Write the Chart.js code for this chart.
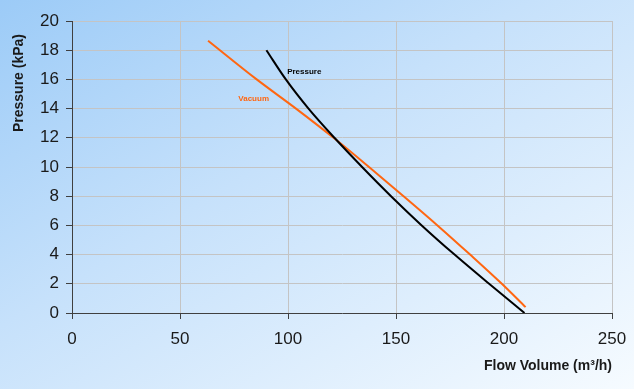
<!DOCTYPE html>
<html>
<head>
<meta charset="utf-8">
<script src="https://cdn.jsdelivr.net/npm/chart.js@4"></script>
<style>
    html, body { margin: 0; padding: 0; }
    body {
        width: 634px;
        height: 389px;
        overflow: hidden;
        background: linear-gradient(to bottom right, #9ccbf7 0%, #c6e1fb 42%, #f6fbff 100%);
    }
    #wrap { position: relative; width: 634px; height: 389px; }
</style>
</head>
<body>
<div id="wrap"><canvas id="flowChart" width="634" height="389"></canvas></div>
<script>
// --- DATA ---
const pressureFlow = [90, 99, 109.5, 121.5, 134.3, 147.7, 161.9, 177.1, 193.1, 209.5];
const pressureKpa  = [18, 16, 14, 12, 10, 8, 6, 4, 2, 0];

const vacuumFlow = [63, 85.5, 103.7, 121.1, 137.5, 153.5, 169.2, 184.3, 199, 210];
const vacuumKpa  = [18.65, 16, 14, 12, 10, 8, 6, 4, 2, 0.4];

const xTicks = [0, 50, 100, 150, 200, 250];
const yTicks = [0, 2, 4, 6, 8, 10, 12, 14, 16, 18, 20];

const seriesNames = ['Pressure', 'Vacuum'];
const labelSpots = [[99.6, 16.5], [77, 14.7]]; // where the series names sit (data units)

const xTitle = 'Flow Volume (m³/h)';
const yTitle = 'Pressure (kPa)';

const toPoints = (xs, ys) => xs.map((x, i) => ({ x: x, y: ys[i] }));

// titles and in-plot series names drawn as text on the canvas
const textPlugin = {
    id: 'textPlugin',
    afterDraw(chart) {
        const ctx = chart.ctx;
        const xs = chart.scales.x, ys = chart.scales.y;
        ctx.save();
        ctx.font = 'bold 14px "Liberation Sans", Arial, sans-serif';
        ctx.fillStyle = '#1a1a1a';
        ctx.textAlign = 'right';
        ctx.textBaseline = 'middle';
        ctx.fillText(xTitle, chart.chartArea.right, 366);

        ctx.translate(19, 83);
        ctx.rotate(-Math.PI / 2);
        ctx.textAlign = 'center';
        ctx.fillText(yTitle, 0, 0);
        ctx.restore();

        ctx.save();
        ctx.font = 'bold 8px "Liberation Sans", Arial, sans-serif';
        ctx.textAlign = 'left';
        ctx.textBaseline = 'middle';
        chart.data.datasets.forEach((ds, i) => {
            ctx.fillStyle = ds.borderColor;
            ctx.fillText(seriesNames[i], xs.getPixelForValue(labelSpots[i][0]), ys.getPixelForValue(labelSpots[i][1]));
        });
        ctx.restore();
    }
};

function initChart() {
    const ctx = document.getElementById('flowChart');
    new Chart(ctx.getContext('2d'), {
        type: 'scatter',
        data: {
            datasets: [
                {
                    label: seriesNames[0],
                    data: toPoints(pressureFlow, pressureKpa),
                    showLine: true,
                    borderColor: '#000000',
                    borderWidth: 2,
                    pointRadius: 0,
                    cubicInterpolationMode: 'monotone'
                },
                {
                    label: seriesNames[1],
                    data: toPoints(vacuumFlow, vacuumKpa),
                    showLine: true,
                    borderColor: '#ff6611',
                    borderWidth: 2,
                    pointRadius: 0,
                    cubicInterpolationMode: 'monotone'
                }
            ]
        },
        options: {
            responsive: false,
            animation: false,
            layout: { padding: { left: 0, right: 22, top: 21, bottom: 0 } },
            plugins: {
                legend: { display: false },
                tooltip: { enabled: false }
            },
            scales: {
                x: {
                    type: 'linear',
                    min: xTicks[0],
                    max: xTicks[xTicks.length - 1],
                    afterBuildTicks: (axis) => { axis.ticks = xTicks.map(v => ({ value: v })); },
                    afterFit: (axis) => {
                        axis.height = 76;
                        axis.paddingLeft = 0;
                        axis.paddingRight = 0;
                    },
                    grid: { color: '#c4c4c4', lineWidth: 1, tickLength: 6, tickColor: '#404040' },
                    border: { color: '#404040', width: 1 },
                    ticks: {
                        color: '#1a1a1a',
                        padding: 10,
                        font: { family: '"Liberation Sans", Arial, sans-serif', size: 17 }
                    }
                },
                y: {
                    type: 'linear',
                    min: yTicks[0],
                    max: yTicks[yTicks.length - 1],
                    afterBuildTicks: (axis) => { axis.ticks = yTicks.map(v => ({ value: v })); },
                    afterFit: (axis) => {
                        axis.width = 72;
                        axis.paddingTop = 0;
                        axis.paddingBottom = 0;
                    },
                    grid: { color: '#c4c4c4', lineWidth: 1, tickLength: 6, tickColor: '#404040' },
                    border: { color: '#404040', width: 1 },
                    ticks: {
                        color: '#1a1a1a',
                        padding: 7,
                        font: { family: '"Liberation Sans", Arial, sans-serif', size: 17 }
                    }
                }
            }
        },
        plugins: [textPlugin]
    });
}

document.addEventListener('DOMContentLoaded', initChart);
</script>
</body>
</html>
